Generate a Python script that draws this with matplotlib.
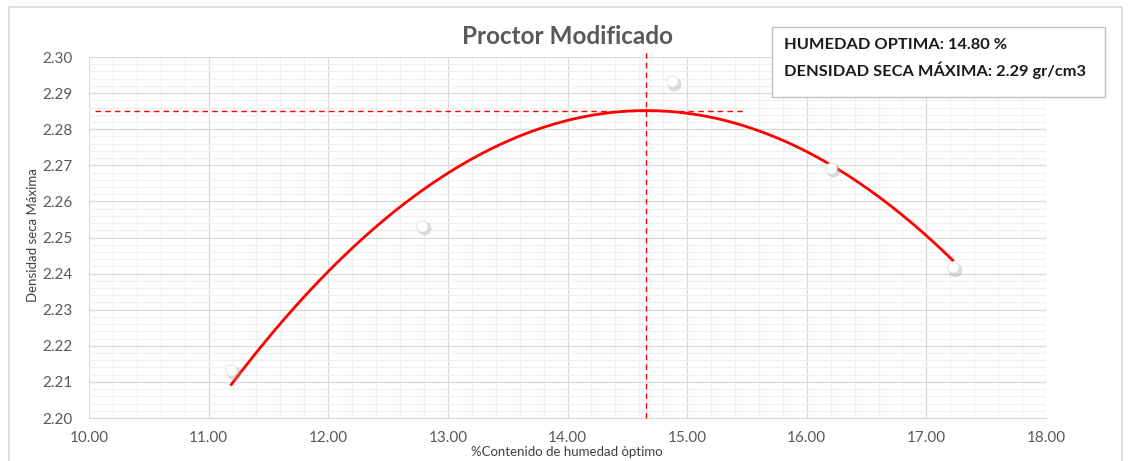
''' Proctor modificado - curva de compactacion '''
import numpy as np
import matplotlib.pyplot as plt
from matplotlib.patches import Rectangle
from matplotlib.ticker import MultipleLocator, FormatStrFormatter

plt.rcParams['font.family'] = ['Lato', 'DejaVu Sans']

# data
humedad = [11.19, 12.78, 14.87, 16.20, 17.22]
densidad = [2.2133, 2.2532, 2.2933, 2.2693, 2.2418]
titulo = 'Proctor Modificado'
xlabel = '%Contenido de humedad òptimo'
ylabel = 'Densidad seca Máxima'
nota = ['HUMEDAD OPTIMA: 14.80 %', 'DENSIDAD SECA MÁXIMA: 2.29 gr/cm3']

# polynomial trendline (order 2), as in the spreadsheet
coef = np.polyfit(humedad, densidad, 2)
xs = np.linspace(min(humedad), max(humedad), 200)
ys = np.polyval(coef, xs)
x_opt = -coef[1] / (2 * coef[0])
y_opt = np.polyval(coef, x_opt)

W, H = 1128, 461
fig = plt.figure(figsize=(W / 100, H / 100), dpi=100)
ax = fig.add_axes([89 / W, 43 / H, 957 / W, 361 / H])

# outer chart frame
fig.patches.append(Rectangle((9 / W, -0.01), 1113 / W, 1 - 7 / H + 0.01,
                             transform=fig.transFigure, fill=False,
                             edgecolor='#d9d9d9', linewidth=1.2))

ax.set_xlim(10, 18)
ax.set_ylim(2.20, 2.30)
ax.xaxis.set_major_locator(MultipleLocator(1))
ax.xaxis.set_minor_locator(MultipleLocator(0.2))
ax.yaxis.set_major_locator(MultipleLocator(0.01))
ax.yaxis.set_minor_locator(MultipleLocator(0.002))
ax.xaxis.set_major_formatter(FormatStrFormatter('%.2f'))
ax.yaxis.set_major_formatter(FormatStrFormatter('%.2f'))
ax.grid(which='minor', color='#f0f0f0', linewidth=0.9)
ax.grid(which='major', color='#d9d9d9', linewidth=0.9)
ax.set_axisbelow(True)
ax.tick_params(which='both', length=0, colors='#595959', labelsize=11)
ax.tick_params(axis='x', pad=9)
ax.tick_params(axis='y', pad=12)
for s in ax.spines.values():
    s.set_visible(False)
ax.spines['bottom'].set_visible(True)
ax.spines['bottom'].set_color('#d9d9d9')

# trendline
ax.plot(xs, ys, color='red', linewidth=2.0, zorder=3)

# reference lines at optimum
ax.plot([10.05, 15.48], [y_opt, y_opt], color='red', linestyle=(0, (4, 3)),
        linewidth=1.0, zorder=3)
ax.plot([x_opt, x_opt], [2.20, 2.302], color='red', linestyle=(0, (4, 3)),
        linewidth=1.0, zorder=3, clip_on=False)

# points with soft shadow
ax.scatter(np.array(humedad) + 0.02, np.array(densidad) - 0.0007, s=100,
           color='#9a9a9a', alpha=0.35, linewidths=0, zorder=4)
ax.scatter(humedad, densidad, s=65, color='white', edgecolor='#e0e0e0',
           linewidths=0.6, zorder=5)

fig.text(567 / W, 1 - 452 / H, xlabel, ha='center', va='center',
         fontsize=9.5, color='#404040')
fig.text(33 / W, 1 - 235 / H, ylabel, ha='center', va='center',
         rotation=90, fontsize=9.5, color='#404040')
fig.text(568 / W, 1 - 36 / H, titulo, ha='center', va='center', fontsize=17.5,
         fontweight='bold', color='#595959')

# annotation box
fig.patches.append(Rectangle((772 / W, 1 - 97 / H), 333 / W, 70 / H,
                             transform=fig.transFigure, facecolor='white',
                             edgecolor='#bfbfbf', linewidth=1.0, zorder=5))
for i, linea in enumerate(nota):
    fig.text(784 / W, 1 - (45 + 25 * i) / H, linea, ha='left', va='center',
             fontsize=11.8, fontweight='bold', color='#1a1a1a', zorder=6)

fig.savefig('out.png', dpi=100)
